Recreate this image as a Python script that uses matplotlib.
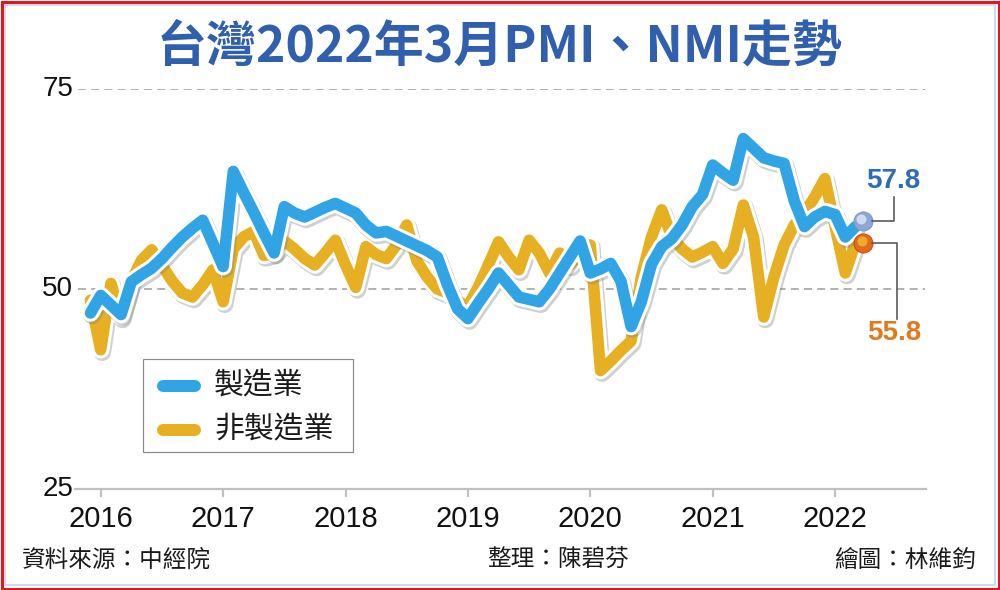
import matplotlib
matplotlib.use('Agg')
import matplotlib.pyplot as plt
import matplotlib.patheffects as pe
from matplotlib.patches import Rectangle
from matplotlib.lines import Line2D
from matplotlib.transforms import IdentityTransform
import pandas as pd
import numpy as np

# ---------------- data ----------------
months = pd.period_range('2015-12', '2022-03', freq='M')
pmi = [47.0,
       49.2, 48.0, 46.8, 50.9, 51.8, 52.6, 53.8, 55.2, 56.5, 57.6, 58.6, 55.7,
       52.8, 64.7, 62.1, 59.6, 57.0, 54.5, 60.3, 59.5, 59.0, 59.6, 60.2, 60.7,
       60.1, 59.5, 58.0, 57.0, 57.2, 56.6, 56.0, 55.4, 54.8, 54.0, 50.5, 47.5,
       46.3, 48.2, 50.0, 52.0, 50.5, 49.0, 48.7, 48.4, 50.0, 52.0, 54.0, 56.0,
       52.0, 52.5, 53.2, 51.0, 45.3, 48.4, 53.1, 55.3, 56.3, 58.0, 60.3, 61.8,
       65.5, 64.5, 63.6, 68.8, 67.6, 66.4, 66.0, 65.7, 61.0, 57.8, 59.0, 59.7,
       59.3, 56.5, 57.8]
nmi = [48.6,
       42.4, 50.7, 46.5, 51.0, 53.6, 54.9, 53.0, 51.0, 49.5, 49.0, 50.5, 52.4,
       48.4, 55.0, 56.5, 57.2, 54.2, 54.5, 56.0, 55.0, 53.8, 53.0, 54.5, 56.1,
       53.0, 50.2, 55.3, 54.3, 53.8, 55.5, 58.0, 53.5, 51.5, 50.0, 49.5, 48.5,
       47.8, 50.2, 53.0, 55.9, 54.0, 52.4, 56.1, 54.5, 52.0, 54.5, 53.0, 54.5,
       55.5, 39.8, 41.0, 42.3, 43.5, 51.5, 56.5, 59.9, 56.5, 55.0, 54.0, 54.6,
       55.3, 53.2, 55.0, 60.5, 56.5, 46.5, 51.5, 55.5, 58.0, 59.5, 61.5, 63.8,
       57.8, 52.0, 55.8]
years = [2016, 2017, 2018, 2019, 2020, 2021, 2022]
yticks = [25, 50, 75]
series_names = ['製造業', '非製造業']
pmi_label = '57.8'
nmi_label = '55.8'
title = '台灣2022年3月PMI、NMI走勢'
source = '資料來源：中經院'
editor = '整理：陳碧芬'
artist = '繪圖：林維鈞'

# ---------------- style ----------------
W, H = 1000, 590
PT = 0.72
BLUE = '#30a4e4'
ORANGE = '#e6b022'
TITLE_C = '#2f5fad'
CJK = ['Noto Sans CJK TC', 'DejaVu Sans']
NUM = ['Liberation Sans', 'DejaVu Sans']

fig = plt.figure(figsize=(W / 100, H / 100), dpi=100)
fig.patch.set_facecolor('white')


def fx(px):
    return px / W


def fy(py):
    return 1 - py / H


# borders
fig.add_artist(Rectangle((fx(1.5), fy(588.5)), fx(997), 587 / H, transform=fig.transFigure,
                         fill=False, edgecolor='#e8141c', linewidth=3 * PT))
fig.add_artist(Rectangle((fx(5), fy(585)), fx(990), 580 / H, transform=fig.transFigure,
                         fill=False, edgecolor='#b9d3ea', linewidth=1.5 * PT))

# axes
ax = fig.add_axes([fx(75), fy(489), (926 - 75) / W, 400 / H])
ax.set_facecolor('none')
x0_px, mpx = 100.7, 10.2
ax.set_xlim((75 - x0_px) / mpx, (926 - x0_px) / mpx)
ax.set_ylim(25, 75)
for s in ['top', 'right', 'left']:
    ax.spines[s].set_visible(False)
ax.spines['bottom'].set_color('#c0c0c0')
ax.spines['bottom'].set_linewidth(2.2 * PT)
ax.set_yticks([])
ax.set_xticks([(y - 2016) * 12 for y in years])
ax.set_xticklabels([str(y) for y in years], fontfamily=NUM, fontsize=21, color='#111111')
ax.tick_params(axis='x', length=8 * PT, width=2.2 * PT, color='#c0c0c0', pad=6)

for v in yticks[1:]:
    ax.axhline(v, xmin=0.003, xmax=0.9985, color='#b3b3b3', lw=2 * PT, dashes=(4, 2.6), zorder=1)
for v in yticks:
    fig.text(fx(73), fy(89 + (75 - v) * 8), str(v), ha='right', va='center',
             fontsize=20, family=NUM, color='#111111')

x = np.array([(p.year - 2016) * 12 + p.month - 1 for p in months])

LW = 11.5 * PT


def effects(lw):
    return [pe.SimpleLineShadow(offset=(1.2, -1.8), shadow_color='#7a7a7a', alpha=0.35,
                                linewidth=lw + 6 * PT),
            pe.Stroke(linewidth=lw + 6 * PT, foreground='white'),
            pe.Normal()]


ax.plot(x, nmi, color=ORANGE, lw=LW, solid_joinstyle='round', solid_capstyle='round',
        path_effects=effects(LW), clip_on=False, zorder=3)
ax.plot(x, pmi, color=BLUE, lw=LW, solid_joinstyle='round', solid_capstyle='round',
        path_effects=effects(LW), clip_on=False, zorder=4)

# end balls
xb = x[-1] + 0.7
ax.plot([xb], [pmi[-1] + 0.7], 'o', ms=19 * PT, color='#8ea6d4', mec='#7f97c6', mew=1 * PT,
        zorder=6, clip_on=False)
ax.plot([xb - 0.15], [pmi[-1] + 0.95], 'o', ms=10 * PT, color='#d6e1f3', mec='none',
        zorder=7, clip_on=False, alpha=0.9)
ax.plot([xb], [nmi[-1]], 'o', ms=19 * PT, color='#e36a18', mec='#c8481a', mew=1 * PT,
        zorder=6, clip_on=False)
ax.plot([xb - 0.1], [nmi[-1] + 0.25], 'o', ms=10 * PT, color='#f2b22c', mec='none',
        zorder=7, clip_on=False, alpha=0.9)

fig.canvas.draw()
bx, by = ax.transData.transform((xb, pmi[-1] + 0.7))
ox, oy = ax.transData.transform((xb, nmi[-1]))
idt = IdentityTransform()
fig.add_artist(Line2D([bx + 9, bx + 31, bx + 31], [by, by, by + 24], transform=idt,
                      color='#555555', lw=1.6 * PT))
fig.add_artist(Line2D([ox + 9, ox + 34, ox + 34], [oy, oy, oy - 76], transform=idt,
                      color='#555555', lw=1.6 * PT))
fig.text(fx(893), fy(181), pmi_label, ha='center', va='center', fontsize=20,
         fontweight='bold', family=NUM, color='#2f6cb6')
fig.text(fx(894), fy(333), nmi_label, ha='center', va='center', fontsize=20,
         fontweight='bold', family=NUM, color='#e07a1c')

# legend
fig.add_artist(Rectangle((fx(143), fy(452)), fx(210), 93 / H, transform=fig.transFigure,
                         fill=True, facecolor='white', edgecolor='#8a8a8a', linewidth=1.2 * PT,
                         zorder=8))
for i, (nm, c) in enumerate(zip(series_names, [BLUE, ORANGE])):
    yy = fy(386 + i * 44)
    fig.add_artist(Line2D([fx(163), fx(195)], [yy, yy], transform=fig.transFigure, color=c,
                          lw=12 * PT, solid_capstyle='round', zorder=9))
    fig.text(fx(214), yy, nm, ha='left', va='center', fontsize=21.5, family=CJK,
             color='#1a1a1a', zorder=9)

# title & footer
fig.text(0.5, fy(47), title, ha='center', va='center', fontsize=36, fontweight='bold',
         family=CJK, color=TITLE_C)
fig.text(fx(22), fy(560), source, ha='left', va='center', fontsize=17, family=CJK, color='#1a1a1a')
fig.text(fx(487), fy(560), editor, ha='left', va='center', fontsize=17, family=CJK, color='#1a1a1a')
fig.text(fx(976), fy(560), artist, ha='right', va='center', fontsize=17, family=CJK, color='#1a1a1a')

fig.savefig('out.png', dpi=100, facecolor='white')
